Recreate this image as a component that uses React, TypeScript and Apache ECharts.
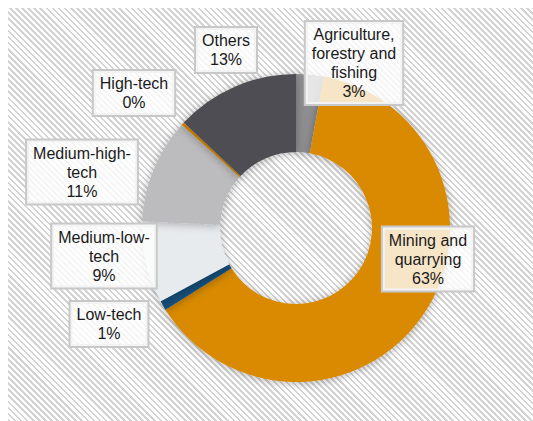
import React, { useEffect, useRef } from "react";
import * as echarts from "echarts";

const categories = [
  "Agriculture,\nforestry and\nfishing",
  "Mining and\nquarrying",
  "Low-tech",
  "Medium-low-\ntech",
  "Medium-high-\ntech",
  "High-tech",
  "Others",
];
const shares = [2.9, 63.2, 1.0, 8.6, 11.0, 0.3, 13.0];
const colors = ["#8e8e91", "#d98a00", "#134d78", "#e8ebee", "#bcbcbf", "#d98a00", "#4d4d52"];
// label box centres (layout only, in chart pixels)
const labelPos: [number, number][] = [
  [346, 55],
  [420, 251],
  [101, 316],
  [96, 248],
  [74, 164],
  [126, 85],
  [218, 42],
];

export default function App() {
  const ref = useRef<HTMLDivElement>(null);
  useEffect(() => {
    if (!ref.current) return;
    const chart = echarts.init(ref.current, undefined, { renderer: "svg" });
    chart.setOption({
      animation: false,
      series: [
        {
          type: "pie",
          center: [288, 220],
          radius: [76, 154],
          startAngle: 90,
          clockwise: true,
          avoidLabelOverlap: false,
          itemStyle: {
            shadowBlur: 8,
            shadowColor: "rgba(0,0,0,0.3)",
            shadowOffsetY: 1,
          },
          label: {
            show: true,
            position: "outside",
            formatter: (p: any) => `${p.name}\n${Math.round(p.value)}%`,
            fontFamily: "Liberation Sans, Arial, sans-serif",
            fontSize: 16,
            lineHeight: 19,
            color: "#1a1a1a",
            align: "center",
            backgroundColor: "rgba(255,255,255,0.78)",
            borderColor: "#c8c8c8",
            borderWidth: 2,
            padding: [3, 6, 3, 6],
          },
          labelLine: { show: false },
          labelLayout: (params: any) => {
            const pos = labelPos[params.dataIndex];
            return { x: pos[0], y: pos[1], align: "center", verticalAlign: "middle" };
          },
          data: categories.map((name, i) => ({
            name,
            value: shares[i],
            itemStyle: { color: colors[i] },
          })),
        },
      ],
    });
    return () => chart.dispose();
  }, []);
  return (
    <div
      ref={ref}
      style={{
        position: "absolute",
        left: 8,
        top: 8,
        width: 525,
        height: 413,
        background:
          "repeating-linear-gradient(45deg, #d3d3d3 0px, #d3d3d3 1.9px, #ffffff 1.9px, #ffffff 4.3px)",
      }}
    />
  );
}
